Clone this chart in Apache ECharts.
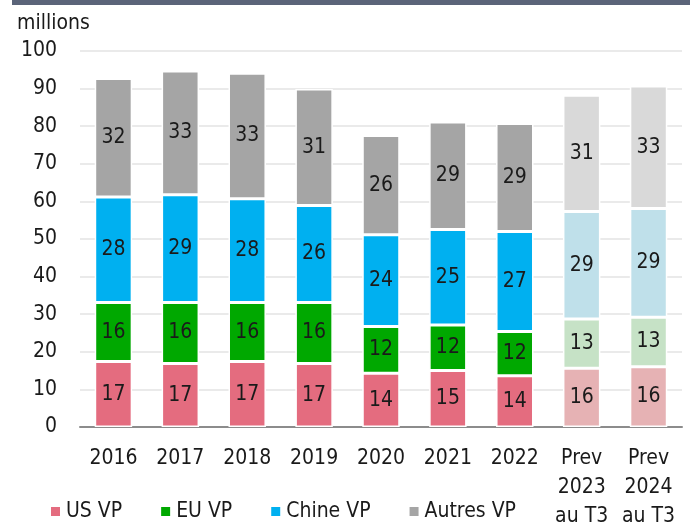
<!DOCTYPE html>
<html>
<head>
<meta charset="utf-8">
<script src="https://cdn.jsdelivr.net/npm/echarts@6/dist/echarts.min.js"></script>
<style>
  html, body { margin: 0; padding: 0; background: #fff; }
  #box { width: 690px; height: 525px; }
</style>
</head>
<body>
<div id="box"></div>
<script>
var categories = ['2016', '2017', '2018', '2019', '2020', '2021', '2022', 'Prev\n2023\nau T3', 'Prev\n2024\nau T3'];
var usVP = [17.4, 16.9, 17.4, 16.9, 14.3, 15.0, 13.6, 15.6, 16.0];
var euVP = [15.7, 16.2, 15.7, 16.2, 12.4, 12.1, 11.8, 13.1, 13.2];
var chineVP = [28.1, 28.7, 27.6, 25.8, 24.4, 25.4, 26.6, 28.6, 28.9];
var autresVP = [31.5, 32.9, 33.4, 31.0, 26.4, 28.6, 28.7, 30.9, 32.6];
var yTicks = [0, 10, 20, 30, 40, 50, 60, 70, 80, 90, 100];

var font = '"Liberation Sans Narrow", "DejaVu Sans Condensed", sans-serif';
var forecastFrom = 7;

function buildData(values, color, lightColor) {
    return values.map(function (v, i) {
        return { value: v, itemStyle: { color: i >= forecastFrom ? lightColor : color } };
    });
}

function makeSeries(name, values, color, lightColor) {
    return {
        name: name,
        type: 'bar',
        stack: 'total',
        barWidth: '56%',
        itemStyle: { color: color, borderColor: '#fff', borderWidth: 1.5 },
        label: {
            show: true,
            position: 'inside',
            color: '#1a1a1a',
            fontFamily: font,
            fontSize: 21,
            formatter: function (p) { return Math.round(p.value); }
        },
        data: buildData(values, color, lightColor)
    };
}

var myCharts = echarts.init(document.getElementById('box'));
var option = {
    animation: false,
    textStyle: { fontFamily: font },
    title: {
        text: 'millions',
        left: 12,
        top: 8,
        textStyle: { fontSize: 21, fontWeight: 'normal', color: '#1a1a1a', fontFamily: font }
    },
    graphic: [{
        type: 'rect',
        left: 12,
        top: 0,
        shape: { width: 678, height: 5 },
        style: { fill: '#5b6479' }
    }],
    legend: {
        left: 44,
        top: 496,
        itemWidth: 11,
        itemHeight: 11,
        itemGap: 37,
        icon: 'rect',
        textStyle: { fontSize: 21, color: '#1a1a1a', fontFamily: font },
        data: [
            { name: 'US VP', itemStyle: { color: '#e46c7f' } },
            { name: 'EU VP', itemStyle: { color: '#00a800' } },
            { name: 'Chine VP', itemStyle: { color: '#00b0f0' } },
            { name: 'Autres VP', itemStyle: { color: '#a5a5a5' } }
        ]
    },
    grid: { left: 80, right: 8, top: 51, bottom: 98, outerBoundsMode: 'none', containLabel: false },
    xAxis: {
        type: 'category',
        data: categories,
        axisTick: { show: false },
        axisLine: { lineStyle: { color: '#8c8c8c', width: 2 } },
        axisLabel: {
            color: '#1a1a1a',
            fontSize: 21,
            fontFamily: font,
            margin: 17,
            lineHeight: 29,
            interval: 0
        }
    },
    yAxis: {
        type: 'value',
        min: yTicks[0],
        max: yTicks[yTicks.length - 1],
        interval: 10,
        axisLine: { show: false },
        axisTick: { show: false },
        axisLabel: { color: '#1a1a1a', fontSize: 21, fontFamily: font, margin: 23 },
        splitLine: { lineStyle: { color: '#e3e3e3', width: 1.5 } }
    },
    series: [
        makeSeries('US VP', usVP, '#e46c7f', '#e6b2b4'),
        makeSeries('EU VP', euVP, '#00a800', '#c6e2c6'),
        makeSeries('Chine VP', chineVP, '#00b0f0', '#bfe0ea'),
        makeSeries('Autres VP', autresVP, '#a5a5a5', '#d9d9d9')
    ]
};
myCharts.setOption(option);
</script>
</body>
</html>
